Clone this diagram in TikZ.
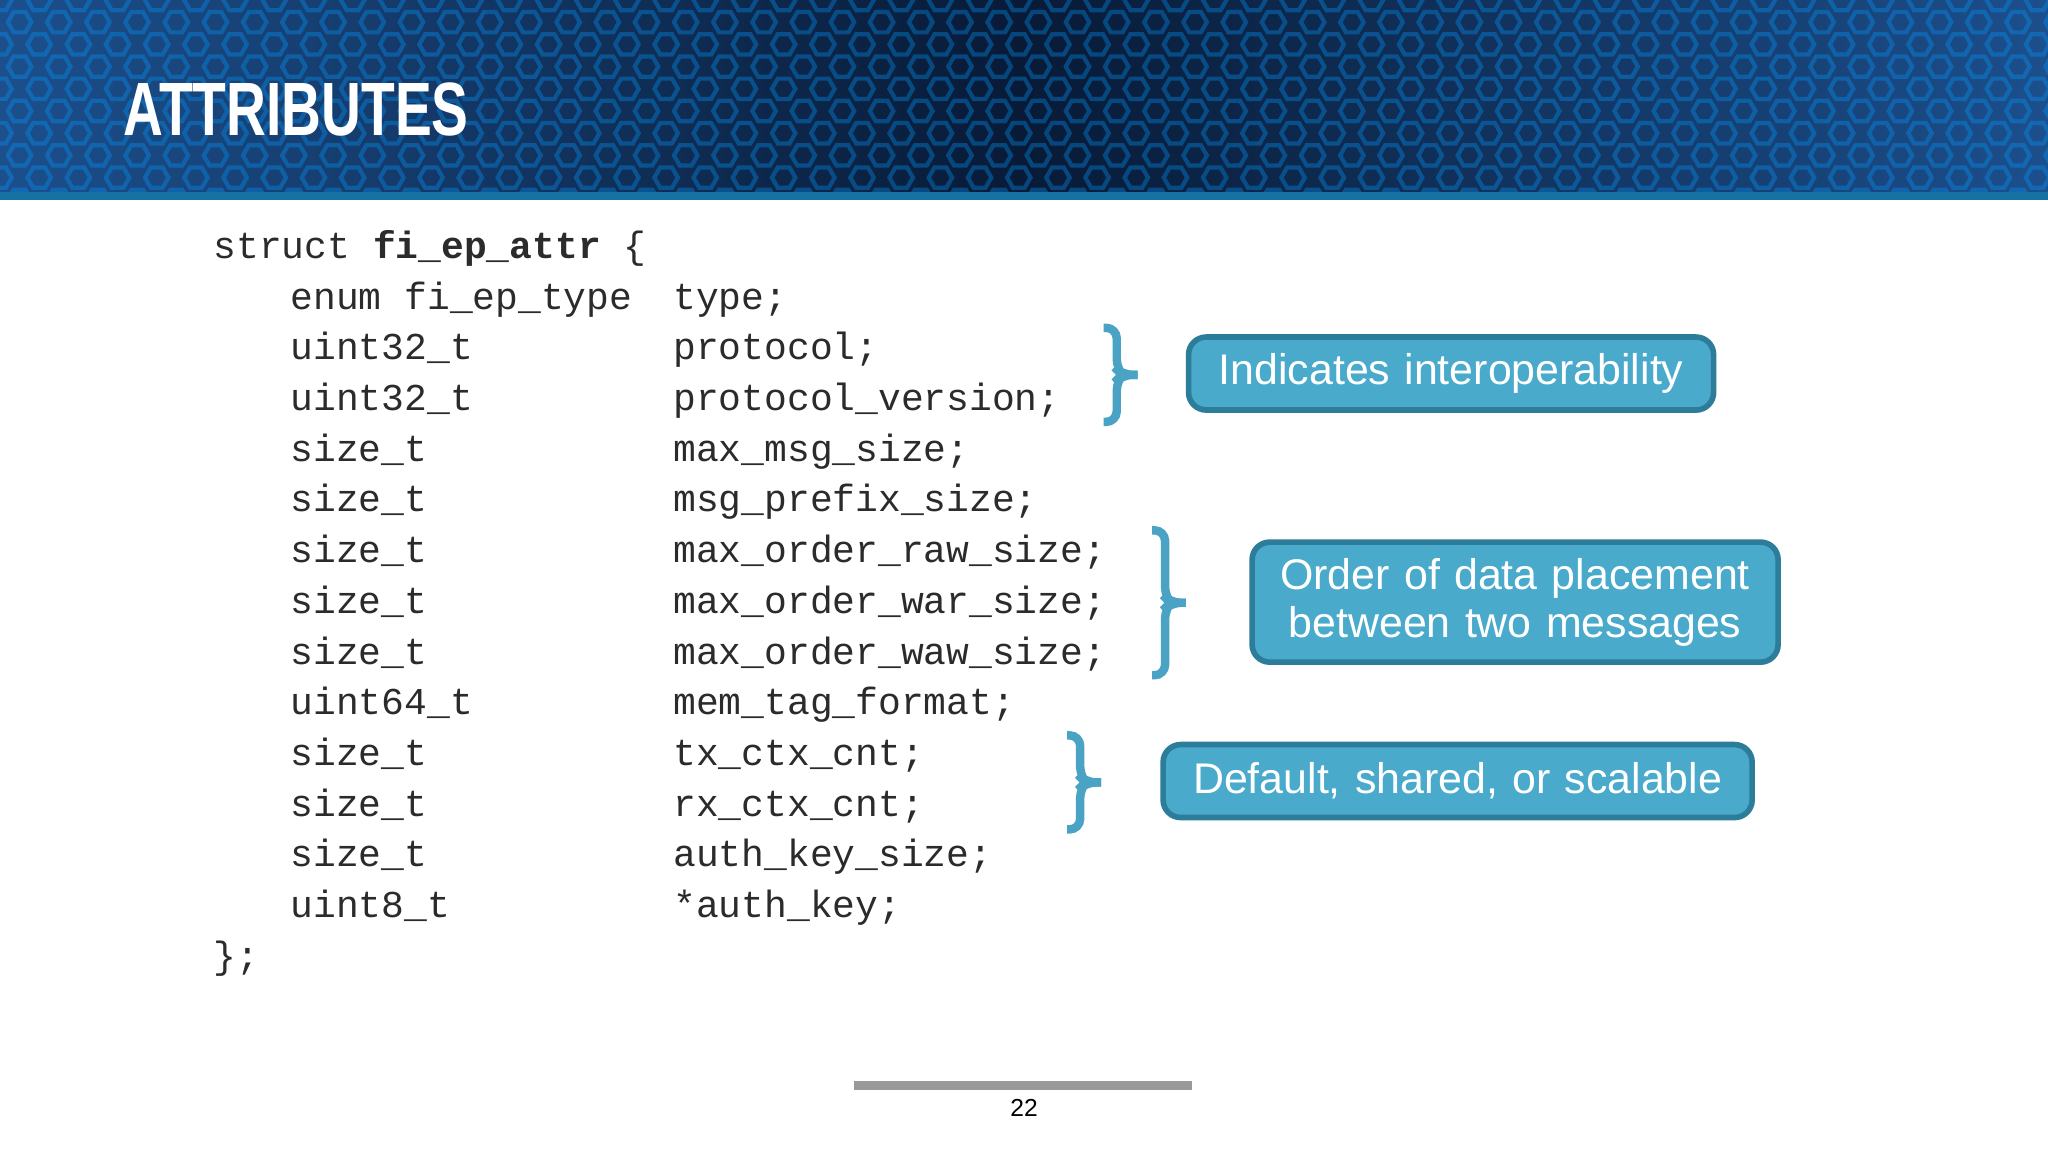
\documentclass[tikz,border=0pt]{standalone}
\usepackage{fontspec}
\setmainfont{Liberation Sans}
\newfontfamily\codefont{Liberation Mono}
\definecolor{codegray}{HTML}{2B2B2B}
\definecolor{bracecol}{HTML}{4AA3C4}
\definecolor{boxfill}{HTML}{4AAACB}
\definecolor{boxedge}{HTML}{2C7D99}
\definecolor{hdrA}{HTML}{1C4F8C}
\definecolor{hdrB}{HTML}{081A36}
\tikzset{
  code/.style={anchor=base west,inner sep=0pt,text=codegray,font=\codefont\fontsize{10.8pt}{12pt}\selectfont},
  callout/.style={draw=boxedge,line width=1.6pt,fill=boxfill,rounded corners=5pt,text=white,font=\fontsize{12.2pt}{14.6pt}\selectfont,align=center,inner sep=0pt},
  bracestyle/.style={draw=bracecol,line width=2.4pt,rounded corners=3pt},
}
\newcommand{\sqbrace}[3]{% x, top, bottom
  \pgfmathsetmacro\mid{(#2+#3)/2}
  \draw[bracestyle] (#1-10,#2) -- (#1,#2) -- (#1,\mid-4) -- (#1+4,\mid) -- (#1+16,\mid);
  \draw[bracestyle] (#1+16,\mid) -- (#1+4,\mid) -- (#1,\mid+4) -- (#1,#3) -- (#1-10,#3);
}
\begin{document}
\begin{tikzpicture}[x=0.013061cm,y=-0.013061cm]
\useasboundingbox (0,0) rectangle (1568,882);
\fill[white] (0,0) rectangle (1568,882);
% header
\shade[left color=hdrA,right color=hdrA,middle color=hdrB] (0,0) rectangle (1568,148);
\begin{scope}
\clip (0,0) rectangle (1568,148);
\foreach \r in {0,...,9}{
  \foreach \c in {0,...,54}{
    \pgfmathsetmacro\xx{\c*30+mod(\r,2)*15}
    \pgfmathsetmacro\yy{\r*17}
    \draw[blue!40!cyan,opacity=0.35,line width=1.2pt] (\xx,\yy) +(0:9) -- +(60:9) -- +(120:9) -- +(180:9) -- +(240:9) -- +(300:9) -- cycle;
  }
}
\end{scope}
\fill[hdrA!80!cyan] (0,147) rectangle (1568,153);
\node[anchor=base west,text=white,inner sep=0pt,font=\bfseries\fontsize{21.5pt}{24pt}\selectfont] (title) at (94,104) {\scalebox{0.73}[1]{ATTRIBUTES}};
% code
\node[code] (l0) at (163,198) {struct \textbf{fi\_ep\_attr} \{};
\foreach \t/\v [count=\i] in {
 {enum fi\_ep\_type}/{type;},
 {uint32\_t}/{protocol;},
 {uint32\_t}/{protocol\_version;},
 {size\_t}/{max\_msg\_size;},
 {size\_t}/{msg\_prefix\_size;},
 {size\_t}/{max\_order\_raw\_size;},
 {size\_t}/{max\_order\_war\_size;},
 {size\_t}/{max\_order\_waw\_size;},
 {uint64\_t}/{mem\_tag\_format;},
 {size\_t}/{tx\_ctx\_cnt;},
 {size\_t}/{rx\_ctx\_cnt;},
 {size\_t}/{auth\_key\_size;},
 {uint8\_t}/{*auth\_key;}}{
  \node[code] (t\i) at (222,198+\i*38.8) {\t};
  \node[code] (v\i) at (515,198+\i*38.8) {\v};
}
\node[code] (lend) at (163,198+14*38.8) {\};};
% braces
\sqbrace{855}{251}{323}
\sqbrace{892}{406}{517}
\sqbrace{827}{563}{635}
% callouts
\node[callout,text width=5.25cm,minimum height=0.73cm] (c1) at (1111,286) {Indicates interoperability};
\node[callout,text width=5.26cm,minimum height=1.2cm] (c2) at (1160,461) {Order of data placement\\[-1pt]between two messages};
\node[callout,text width=5.89cm,minimum height=0.73cm] (c3) at (1116,598) {Default, shared, or scalable};
% footer
\draw[gray!80,line width=2.5pt] (654,831) coordinate (f1) -- (913,831) coordinate (f2);
\node[font=\fontsize{7pt}{8pt}\selectfont,text=black] (pg) at (784,848) {22};
\end{tikzpicture}
\end{document}
